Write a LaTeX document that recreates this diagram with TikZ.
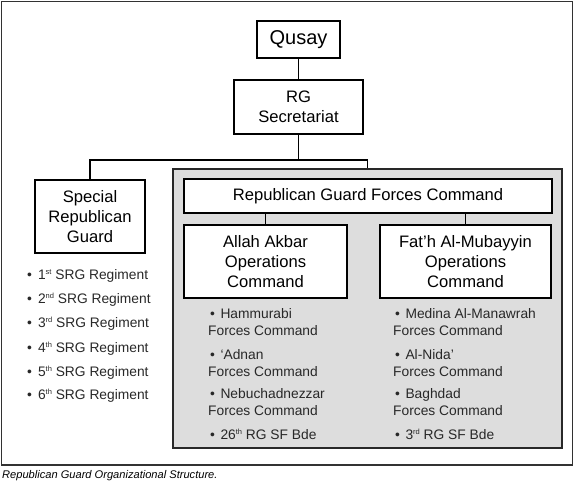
\documentclass[tikz,border=0pt]{standalone}
\usepackage{fontspec}
\setmainfont{Liberation Sans}
\definecolor{areafill}{RGB}{221,221,221}
\definecolor{areadraw}{RGB}{40,40,40}
\definecolor{frameline}{RGB}{50,50,50}
\definecolor{listtext}{RGB}{40,40,40}
\newcommand{\ordsup}[1]{\raisebox{4.5pt}{\fontsize{7.5}{8}\selectfont #1}}
\begin{document}
\begin{tikzpicture}[x=1pt,y=-1pt,
  orgbox/.style={draw=black, line width=1.3pt, fill=white, inner sep=0pt, align=center,
    font=\fontsize{16.6}{20}\selectfont},
  area/.style={draw=areadraw, line width=2pt, fill=areafill, inner sep=0pt},
  conn/.style={draw=black, line width=1.3pt},
  listitem/.style={anchor=base west, inner sep=0pt, text=listtext, align=left,
    font=\fontsize{13.8}{17}\selectfont},
  captiontext/.style={anchor=west, inner sep=0pt, font=\fontsize{11.1}{13}\selectfont\itshape}
]
\useasboundingbox (0,0) rectangle (576,482);
\draw[frameline, line width=1.5pt] (1.5,1.5) rectangle (572.5,465);

% gray area
\node[area, minimum width=389pt, minimum height=279pt] (area) at (367.5,308.5) {};

% boxes
\node[orgbox, minimum width=83pt, minimum height=37pt, font=\fontsize{20}{24}\selectfont] (qusay) at (298.5,39.5) {Qusay};
\node[orgbox, minimum width=129pt, minimum height=54pt] (rgsec) at (298.5,107) {RG\\Secretariat};
\node[orgbox, minimum width=110pt, minimum height=73pt] (srg) at (90,216.5) {Special\\Republican\\Guard};
\node[orgbox, minimum width=368pt, minimum height=34pt] (rgfc) at (368,196) {Republican Guard Forces Command};
\node[orgbox, minimum width=163pt, minimum height=73pt] (aa) at (265.5,261.5) {Allah Akbar\\Operations\\Command};
\node[orgbox, minimum width=171pt, minimum height=73pt] (fm) at (465.5,261.5) {Fat’h Al-Mubayyin\\Operations\\Command};

% connectors
\coordinate (j) at (298.5,160);
\draw[conn] (qusay.south) -- (rgsec.north);
\draw[conn] (rgsec.south) -- (j);
\draw[conn] (srg.north) |- (j) -| (area.north);
\draw[conn] (aa.north) -- (aa.north |- rgfc.south);
\draw[conn] (fm.north) -- (fm.north |- rgfc.south);

% SRG regiments
\node[listitem] (r1) at (27,279) {•\hspace{6pt}1\ordsup{st} SRG Regiment};
\node[listitem] (r2) at (27,303) {•\hspace{6pt}2\ordsup{nd} SRG Regiment};
\node[listitem] (r3) at (27,327) {•\hspace{6pt}3\ordsup{rd} SRG Regiment};
\node[listitem] (r4) at (27,352) {•\hspace{6pt}4\ordsup{th} SRG Regiment};
\node[listitem] (r5) at (27,376) {•\hspace{6pt}5\ordsup{th} SRG Regiment};
\node[listitem] (r6) at (27,399) {•\hspace{6pt}6\ordsup{th} SRG Regiment};

% Allah Akbar subordinates (base = last line)
\node[listitem] (a1) at (208,335) {\hspace*{2pt}•\hspace{5.5pt}Hammurabi\\Forces Command};
\node[listitem] (a2) at (208,376) {\hspace*{2pt}•\hspace{5.5pt}{\char"60}Adnan\\Forces Command};
\node[listitem] (a3) at (208,415) {\hspace*{2pt}•\hspace{5.5pt}Nebuchadnezzar\\Forces Command};
\node[listitem] (a4) at (208,439) {\hspace*{2pt}•\hspace{5.5pt}26\ordsup{th} RG SF Bde};

% Fat'h Al-Mubayyin subordinates
\node[listitem] (f1) at (393,335) {\hspace*{2pt}•\hspace{5.5pt}Medina Al-Manawrah\\Forces Command};
\node[listitem] (f2) at (393,376) {\hspace*{2pt}•\hspace{5.5pt}Al-Nida’\\Forces Command};
\node[listitem] (f3) at (393,415) {\hspace*{2pt}•\hspace{5.5pt}Baghdad\\Forces Command};
\node[listitem] (f4) at (393,439) {\hspace*{2pt}•\hspace{5.5pt}3\ordsup{rd} RG SF Bde};

% caption
\node[captiontext] (cap) at (2,476) {Republican Guard Organizational Structure.};
\end{tikzpicture}
\end{document}
